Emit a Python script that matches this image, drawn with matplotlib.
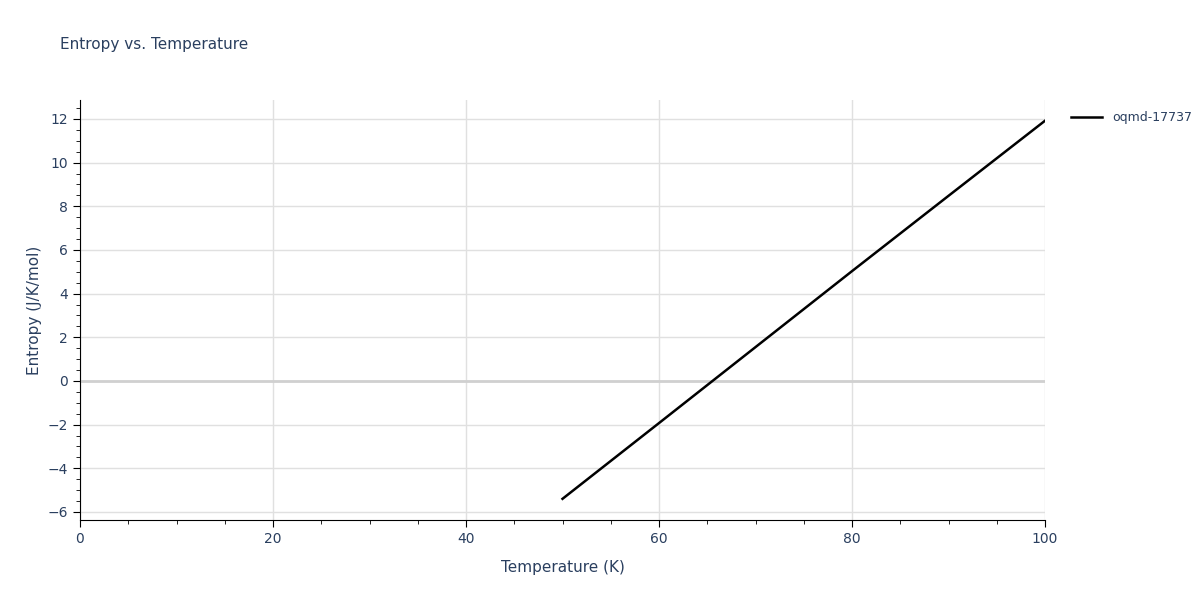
import matplotlib
matplotlib.use('Agg')
import matplotlib.pyplot as plt
from matplotlib.ticker import MultipleLocator

temperature = [50, 60, 70, 80, 90, 100]
entropy = [-5.4, -1.93, 1.55, 5.03, 8.48, 11.92]
series_name = 'oqmd-17737'

text_col = '#2a3f5f'
grid_col = '#e0e0e0'

fig = plt.figure(figsize=(12, 6), dpi=100)
ax = fig.add_axes([80 / 1200, 80 / 600, 965 / 1200, 420 / 600])

ax.plot(temperature, entropy, color='black', lw=1.8, label=series_name)
ax.set_xlim(0, 100)
ax.set_ylim(-6.37, 12.87)
ax.xaxis.set_major_locator(MultipleLocator(20))
ax.xaxis.set_minor_locator(MultipleLocator(5))
ax.yaxis.set_major_locator(MultipleLocator(2))
ax.yaxis.set_minor_locator(MultipleLocator(0.5))
ax.grid(True, which='major', color=grid_col, lw=1)
ax.axhline(0, color='#d0d0d0', lw=2, zorder=1)
ax.set_axisbelow(True)

for s in ['top', 'right']:
    ax.spines[s].set_visible(False)
for s in ['left', 'bottom']:
    ax.spines[s].set_color('black')
ax.tick_params(which='both', direction='out', colors='black', labelcolor=text_col, labelsize=10)
ax.tick_params(which='major', length=5)
ax.tick_params(which='minor', length=3)

ax.set_xlabel('Temperature (K)', color=text_col, fontsize=11, labelpad=10)
ax.set_ylabel('Entropy (J/K/mol)', color=text_col, fontsize=11)
fig.text(60 / 1200, 1 - 45 / 600, 'Entropy vs. Temperature', color=text_col, fontsize=11, va='center')

ax.legend(loc='upper left', bbox_to_anchor=(1.015, 1.0), frameon=False, fontsize=9,
          labelcolor=text_col, handlelength=2.5)

fig.savefig('out.png')
